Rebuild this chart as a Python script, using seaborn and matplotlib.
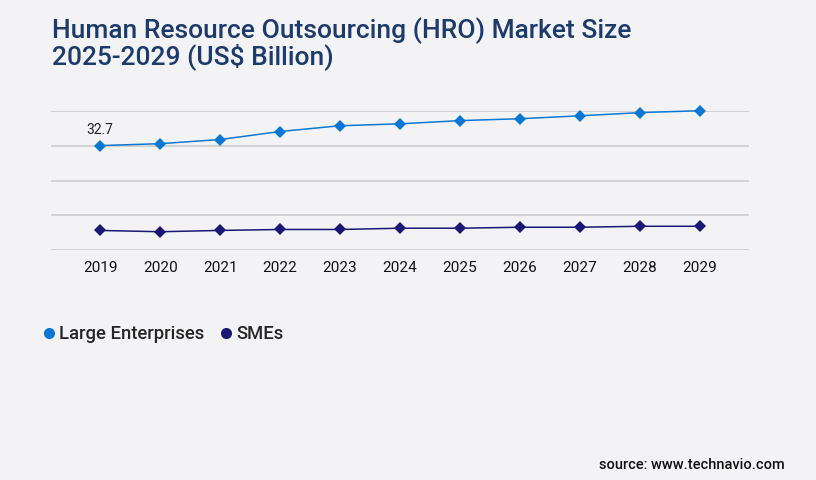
import matplotlib
matplotlib.use("Agg")
import matplotlib.pyplot as plt
import seaborn as sns
import pandas as pd
import numpy as np
from matplotlib.lines import Line2D

years = ["2019", "2020", "2021", "2022", "2023", "2024", "2025", "2026", "2027", "2028", "2029"]
large_enterprises = [32.7, 33.3, 34.6, 37.1, 38.9, 39.5, 40.5, 41.1, 42.0, 43.0, 43.6]
smes = [6.2, 5.8, 6.2, 6.5, 6.5, 6.9, 6.9, 7.2, 7.2, 7.5, 7.5]
series_names = ["Large Enterprises", "SMEs"]
label_2019 = "32.7"

bg = "#f3f3f5"
c_large = "#0a78d2"
c_sme = "#1b1775"

sns.set_theme(style="white")
plt.rcParams["font.family"] = ["Roboto", "DejaVu Sans"]

df = pd.DataFrame({
    "Year": years * 2,
    "Value": large_enterprises + smes,
    "Segment": [series_names[0]] * len(years) + [series_names[1]] * len(years),
})

fig = plt.figure(figsize=(8.16, 4.8), dpi=100, facecolor=bg)
ax = fig.add_axes([51 / 816, 1 - 250.3 / 480, 698 / 816, 139.6 / 480])
ax.set_facecolor(bg)

sns.lineplot(data=df, x="Year", y="Value", hue="Segment", palette=[c_large, c_sme],
             marker="D", markersize=6, markeredgewidth=0, linewidth=1.1,
             ax=ax, legend=False, sort=False)
for ln in ax.get_lines():
    ln.set_clip_on(False)

ymax = max(large_enterprises)
ax.set_ylim(0, ymax)
ax.set_yticks(np.linspace(0, ymax, 5))
ax.yaxis.grid(True, color="#c8c8cc", linewidth=1.1)
ax.set_axisbelow(True)
ax.set_xlim(-0.82, len(years) - 1 + 0.82)
ax.tick_params(axis="y", left=False, labelleft=False)
ax.tick_params(axis="x", bottom=False, labelsize=11, pad=2, labelcolor="#111111")
ax.set_xlabel("")
ax.set_ylabel("")
for s in ax.spines.values():
    s.set_visible(False)

ax.annotate(label_2019, xy=(0, large_enterprises[0]), xytext=(0, 11),
            textcoords="offset points", ha="center", va="center",
            fontsize=10, color="#222222")

fig.text(52 / 816, 1 - 17 / 480, "Human Resource Outsourcing (HRO) Market Size\n2025-2029 (US$ Billion)",
         ha="left", va="top", fontsize=19, fontweight="medium", color="#1c3a6b",
         linespacing=0.98)

handles = [Line2D([0], [0], marker="o", linestyle="", markersize=8, color=c,
                  markeredgewidth=0) for c in [c_large, c_sme]]
leg = fig.legend(handles, series_names, loc="center left",
                 bbox_to_anchor=(23 / 816, 1 - 334 / 480), frameon=False,
                 ncol=2, handletextpad=0.05, columnspacing=0.7, handlelength=1.0,
                 prop={"family": "Roboto", "size": 13.3, "weight": "medium"})

fig.text(785 / 816, 1 - 465 / 480, "source: www.technavio.com", ha="right", va="center",
         fontsize=10.5, fontweight="medium", color="#111111")

fig.savefig("out.png", dpi=100, facecolor=bg)
